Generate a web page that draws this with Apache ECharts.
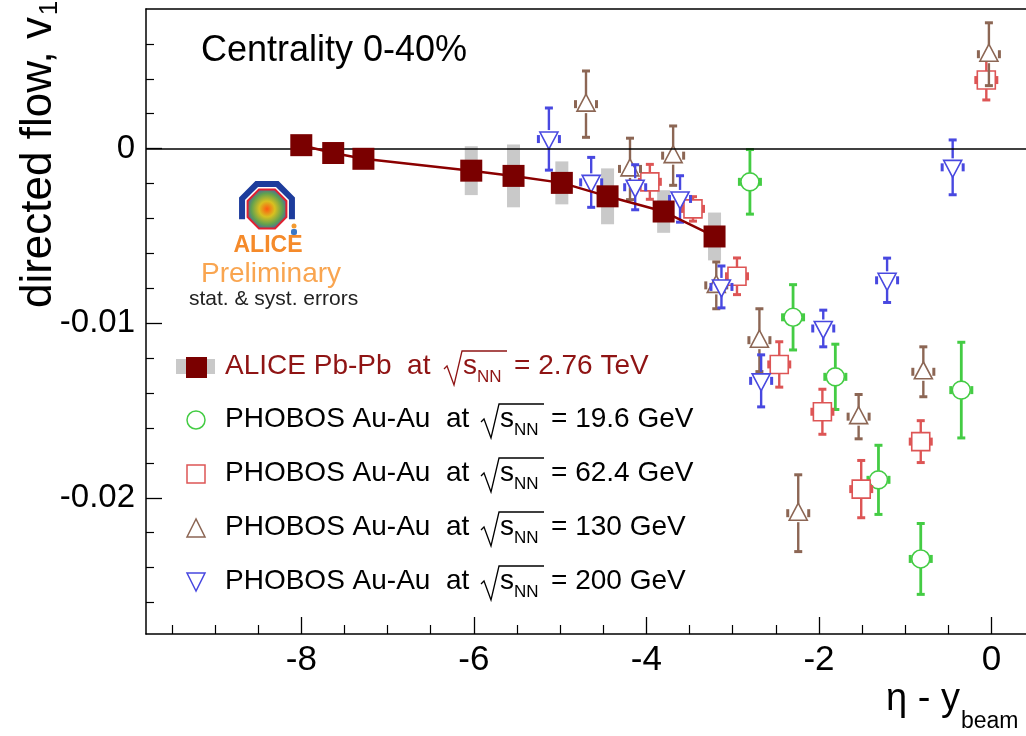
<!DOCTYPE html>
<html>
<head>
<meta charset="utf-8">
<script src="https://cdn.jsdelivr.net/npm/echarts@6.0.0/dist/echarts.min.js"></script>
<style>
html,body{margin:0;padding:0;background:#fff;}
#chart{width:1026px;height:736px;}
</style>
</head>
<body>
<div id="chart"></div>
<script>
// ---------------- data ----------------
const xMajorTicks = [-8, -6, -4, -2, 0];
const xMinorTicks = [-9.5, -9, -8.5, -7.5, -7, -6.5, -5.5, -5, -4.5, -3.5, -3, -2.5, -1.5, -1, -0.5];
const yMajorTicks = [-0.02, -0.01, 0];
const yMinorTicks = [-0.026, -0.024, -0.022, -0.018, -0.016, -0.014, -0.012, -0.008, -0.006, -0.004, -0.002, 0.002, 0.004, 0.006];

const aliceX   = [-8.00, -7.63, -7.28, -6.03, -5.54, -4.98, -4.45, -3.80, -3.21];
const aliceV1  = [0.0002, -0.00025, -0.00058, -0.00126, -0.00156, -0.00196, -0.00273, -0.0036, -0.00503];
const aliceSys = [0.0003, 0.0003, 0.0003, 0.0014, 0.0018, 0.00123, 0.0016, 0.00122, 0.00137];

const ph196X   = [-2.80, -2.30, -1.81, -1.31, -0.82, -0.35];
const ph196V1  = [-0.0019, -0.00966, -0.01307, -0.01897, -0.0235, -0.01383];
const ph196Err = [0.00185, 0.00187, 0.00187, 0.00198, 0.00203, 0.00274];

const ph624X   = [-3.96, -3.46, -2.95, -2.46, -1.96, -1.51, -0.82, -0.06];
const ph624V1  = [-0.0019, -0.00345, -0.00731, -0.01236, -0.01507, -0.0195, -0.01678, 0.00393];
const ph624Err = [0.001, 0.0007, 0.00105, 0.0013, 0.00129, 0.00164, 0.0012, 0.00114];

const ph130X   = [-4.70, -4.19, -3.69, -3.19, -2.69, -2.24, -1.54, -0.79, -0.03];
const ph130V1  = [0.00255, -0.00116, -0.0004, -0.00783, -0.01097, -0.02088, -0.01535, -0.01278, 0.00541];
const ph130Err = [0.0019, 0.00176, 0.0017, 0.00134, 0.0018, 0.0022, 0.00127, 0.00143, 0.0018];

const ph200X   = [-5.13, -4.64, -4.13, -3.61, -3.13, -2.67, -1.95, -1.21, -0.45];
const ph200V1  = [0.00055, -0.00193, -0.00221, -0.00288, -0.00792, -0.0133, -0.0103, -0.00754, -0.00107];
const ph200Err = [0.00178, 0.00143, 0.00129, 0.00133, 0.0012, 0.00149, 0.00105, 0.00127, 0.00157];

const legendNames    = ['ALICE Pb-Pb  at', 'PHOBOS Au-Au  at', 'PHOBOS Au-Au  at', 'PHOBOS Au-Au  at', 'PHOBOS Au-Au  at'];
const legendEnergies = ['= 2.76 TeV', '= 19.6 GeV', '= 62.4 GeV', '= 130 GeV', '= 200 GeV'];
const titleText = 'Centrality 0-40%';

// ---------------- style ----------------
const FONT = '"Liberation Sans", Arial, Helvetica, sans-serif';
const C_ALICE = '#7a0000';
const C_ALICE_TXT = '#8f1414';
const C_G = '#44cc44';
const C_R = '#dd5555';
const C_B = '#8c6654';
const C_U = '#4848e0';
const C_SYS = '#c9c9c9';

function errRender(shape, color, lw) {
  return function (params, api) {
    const x = api.value(0), y = api.value(1), e = api.value(2);
    const c = api.coord([x, y]);
    const t = api.coord([x, y + e]);
    const b = api.coord([x, y - e]);
    const h = 9;
    const st = { stroke: color, lineWidth: lw, fill: null };
    const kids = [];
    if (t[1] < c[1] - h) kids.push({ type: 'line', shape: { x1: c[0], y1: t[1], x2: c[0], y2: c[1] - h }, style: st });
    if (b[1] > c[1] + h) kids.push({ type: 'line', shape: { x1: c[0], y1: c[1] + h, x2: c[0], y2: b[1] }, style: st });
    kids.push({ type: 'rect', shape: { x: c[0] - 4, y: t[1] - 1.5, width: 8, height: 3 }, style: { fill: color } });
    kids.push({ type: 'rect', shape: { x: c[0] - 4, y: b[1] - 1.5, width: 8, height: 3 }, style: { fill: color } });
    kids.push({ type: 'rect', shape: { x: c[0] - h - 3, y: c[1] - 4, width: 3, height: 8 }, style: { fill: color } });
    kids.push({ type: 'rect', shape: { x: c[0] + h, y: c[1] - 4, width: 3, height: 8 }, style: { fill: color } });
    const ms = { fill: '#fff', stroke: color, lineWidth: 1.6 };
    if (shape === 'circle') kids.push({ type: 'circle', shape: { cx: c[0], cy: c[1], r: h }, style: ms });
    else if (shape === 'square') kids.push({ type: 'rect', shape: { x: c[0] - h, y: c[1] - h, width: 2 * h, height: 2 * h }, style: ms });
    else if (shape === 'up') kids.push({ type: 'polygon', shape: { points: [[c[0], c[1] - h - 1], [c[0] - h, c[1] + h - 2], [c[0] + h, c[1] + h - 2]] }, style: ms });
    else kids.push({ type: 'polygon', shape: { points: [[c[0], c[1] + h + 1], [c[0] - h, c[1] - h + 2], [c[0] + h, c[1] - h + 2]] }, style: ms });
    return { type: 'group', children: kids };
  };
}

function sysRender(params, api) {
  const x = api.value(0), y = api.value(1), s = api.value(2);
  const t = api.coord([x, y + s]);
  const b = api.coord([x, y - s]);
  return { type: 'rect', shape: { x: t[0] - 6.5, y: t[1], width: 13, height: b[1] - t[1] }, style: { fill: C_SYS } };
}

const zip3 = (a, b, c) => a.map((v, i) => [v, b[i], c[i]]);

// ---------------- legend graphics ----------------
const legendRowY = [366, 419, 473, 527, 581];
const legendRootX = [444, 481, 481, 481, 481];
const legendGraphics = [];
legendRowY.forEach((yc, i) => {
  const col = i === 0 ? C_ALICE_TXT : '#000';
  const fs = 28;
  const x0 = legendRootX[i];
  legendGraphics.push({ type: 'text', x: 225, y: yc, style: { text: legendNames[i], font: fs + 'px ' + FONT, fill: col, align: 'left', verticalAlign: 'middle' } });
  legendGraphics.push({ type: 'polyline', shape: { points: [[x0, yc + 3], [x0 + 3, yc], [x0 + 10, yc + 19], [x0 + 18, yc - 15], [x0 + 63, yc - 15]] }, style: { stroke: col, lineWidth: 1.3, fill: null } });
  legendGraphics.push({ type: 'text', x: x0 + 19, y: yc, style: { text: 's', font: fs + 'px ' + FONT, fill: col, align: 'left', verticalAlign: 'middle' } });
  legendGraphics.push({ type: 'text', x: x0 + 33, y: yc + 11, style: { text: 'NN', font: '17px ' + FONT, fill: col, align: 'left', verticalAlign: 'middle' } });
  legendGraphics.push({ type: 'text', x: x0 + 70, y: yc, style: { text: legendEnergies[i], font: fs + 'px ' + FONT, fill: col, align: 'left', verticalAlign: 'middle' } });
});
legendGraphics.push({ type: 'rect', shape: { x: 176, y: 359, width: 39, height: 15 }, style: { fill: C_SYS } });
legendGraphics.push({ type: 'rect', shape: { x: 186, y: 357, width: 21, height: 21 }, style: { fill: C_ALICE } });
legendGraphics.push({ type: 'circle', shape: { cx: 196, cy: 420, r: 9 }, style: { fill: '#fff', stroke: C_G, lineWidth: 1.5 } });
legendGraphics.push({ type: 'rect', shape: { x: 187, y: 465, width: 18, height: 18 }, style: { fill: '#fff', stroke: C_R, lineWidth: 1.5 } });
legendGraphics.push({ type: 'polygon', shape: { points: [[196, 519], [187, 537], [205, 537]] }, style: { fill: '#fff', stroke: C_B, lineWidth: 1.5 } });
legendGraphics.push({ type: 'polygon', shape: { points: [[196, 591], [187, 573], [205, 573]] }, style: { fill: '#fff', stroke: C_U, lineWidth: 1.5 } });

// ---------------- ALICE logo ----------------
function octPts(cx, cy, r, angles) {
  return angles.map(a => [cx + r * Math.cos(a * Math.PI / 180), cy + r * Math.sin(a * Math.PI / 180)]);
}
const logoCx = 267, logoCy = 209;
const logoGraphics = [
  { type: 'polyline', shape: { points: octPts(logoCx, logoCy, 27, [157.5, 202.5, 247.5, 292.5, 337.5, 22.5]) }, style: { stroke: '#1d3c9c', lineWidth: 6, fill: null, lineJoin: 'miter' } },
  { type: 'polygon', shape: { points: octPts(logoCx, logoCy, 21, [22.5, 67.5, 112.5, 157.5, 202.5, 247.5, 292.5, 337.5]) },
    style: { stroke: '#e02030', lineWidth: 2, fill: new echarts.graphic.RadialGradient(0.5, 0.5, 0.55, [{ offset: 0, color: '#ff5a10' }, { offset: 0.35, color: '#d8c020' }, { offset: 0.7, color: '#60a050' }, { offset: 1, color: '#4a50b8' }]) } },
  { type: 'circle', shape: { cx: 294, cy: 226, r: 2.5 }, style: { fill: '#f39a30' } },
  { type: 'rect', shape: { x: 291, y: 229, width: 6, height: 6, r: 2 }, style: { fill: '#3a78c8' } },
  { type: 'text', x: 268, y: 246, style: { text: 'ALICE', font: 'bold 23px ' + FONT, fill: '#f58a2a', align: 'center', verticalAlign: 'middle' } },
  { type: 'text', x: 201, y: 274, style: { text: 'Preliminary', font: '28px ' + FONT, fill: '#f9a550', align: 'left', verticalAlign: 'middle' } },
  { type: 'text', x: 189, y: 299, style: { text: 'stat. & syst. errors', font: '21px ' + FONT, fill: '#222', align: 'left', verticalAlign: 'middle' } }
];

const textGraphics = [
  { type: 'text', x: 201, y: 51, style: { text: titleText, font: '36px ' + FONT, fill: '#000', align: 'left', verticalAlign: 'middle' } },
  { type: 'text', x: 39, y: 17, rotation: Math.PI / 2, style: { text: 'directed flow, v', font: '44px ' + FONT, fill: '#000', align: 'right', verticalAlign: 'middle' } },
  { type: 'text', x: 50, y: 8, rotation: Math.PI / 2, style: { text: '1', font: '26px ' + FONT, fill: '#000', align: 'center', verticalAlign: 'middle' } },
  { type: 'text', x: 960, y: 700, style: { text: 'η - y', font: '38px ' + FONT, fill: '#000', align: 'right', verticalAlign: 'middle' } },
  { type: 'text', x: 961, y: 722, style: { text: 'beam', font: '23px ' + FONT, fill: '#000', align: 'left', verticalAlign: 'middle' } }
];

// ---------------- chart ----------------
const chart = echarts.init(document.getElementById('chart'), null, { renderer: 'canvas' });
const X_MIN = -9.8, X_MAX = 0.4, Y_MIN = -0.0278, Y_MAX = 0.008;
const axLine = { show: true, onZero: false, lineStyle: { color: '#000', width: 1.5 } };

chart.setOption({
  animation: false,
  backgroundColor: '#fff',
  grid: { left: 146, right: 0, top: 9, bottom: 102 },
  xAxis: [
    { type: 'value', min: X_MIN, max: X_MAX, position: 'bottom', axisLine: axLine,
      axisTick: { show: true, inside: true, length: 17, customValues: xMajorTicks, lineStyle: { color: '#000', width: 1.3 } },
      axisLabel: { show: true, customValues: xMajorTicks, fontSize: 35, color: '#000', fontFamily: FONT, margin: 9 },
      splitLine: { show: false } },
    { type: 'value', min: X_MIN, max: X_MAX, position: 'bottom', axisLine: { show: false, onZero: false },
      axisTick: { show: true, inside: true, length: 9, customValues: xMinorTicks, lineStyle: { color: '#000', width: 1.2 } },
      axisLabel: { show: false }, splitLine: { show: false } },
    { type: 'value', min: X_MIN, max: X_MAX, position: 'top', axisLine: axLine,
      axisTick: { show: false }, axisLabel: { show: false }, splitLine: { show: false } }
  ],
  yAxis: [
    { type: 'value', min: Y_MIN, max: Y_MAX, position: 'left', axisLine: axLine,
      axisTick: { show: true, inside: true, length: 16, customValues: yMajorTicks, lineStyle: { color: '#000', width: 1.3 } },
      axisLabel: { show: true, customValues: yMajorTicks, fontSize: 33, color: '#000', fontFamily: FONT, margin: 11,
        formatter: v => (Math.abs(v) < 1e-12 ? '0' : String(+v.toFixed(3))) },
      splitLine: { show: false } },
    { type: 'value', min: Y_MIN, max: Y_MAX, position: 'left', axisLine: { show: false, onZero: false },
      axisTick: { show: true, inside: true, length: 8, customValues: yMinorTicks, lineStyle: { color: '#000', width: 1.2 } },
      axisLabel: { show: false }, splitLine: { show: false } }
  ],
  series: [
    { name: 'ALICE sys', type: 'custom', renderItem: sysRender, data: zip3(aliceX, aliceV1, aliceSys), encode: { x: 0, y: 1 }, z: 1, silent: true,
      markLine: { silent: true, symbol: 'none', label: { show: false }, lineStyle: { color: '#000', width: 1.5, type: 'solid' }, data: [{ yAxis: 0 }] } },
    { name: 'PHOBOS 19.6 GeV', type: 'custom', renderItem: errRender('circle', C_G, 2.8), data: zip3(ph196X, ph196V1, ph196Err), encode: { x: 0, y: 1 }, z: 3 },
    { name: 'PHOBOS 62.4 GeV', type: 'custom', renderItem: errRender('square', C_R, 2.4), data: zip3(ph624X, ph624V1, ph624Err), encode: { x: 0, y: 1 }, z: 3 },
    { name: 'PHOBOS 130 GeV', type: 'custom', renderItem: errRender('up', C_B, 2.4), data: zip3(ph130X, ph130V1, ph130Err), encode: { x: 0, y: 1 }, z: 3 },
    { name: 'PHOBOS 200 GeV', type: 'custom', renderItem: errRender('down', C_U, 2.4), data: zip3(ph200X, ph200V1, ph200Err), encode: { x: 0, y: 1 }, z: 3 },
    { name: 'ALICE Pb-Pb 2.76 TeV', type: 'line', data: aliceX.map((x, i) => [x, aliceV1[i]]), symbol: 'rect', symbolSize: 22,
      itemStyle: { color: C_ALICE }, lineStyle: { color: '#8b0000', width: 2.5 }, z: 10 }
  ],
  graphic: [].concat(textGraphics, logoGraphics, legendGraphics)
});
</script>
</body>
</html>
